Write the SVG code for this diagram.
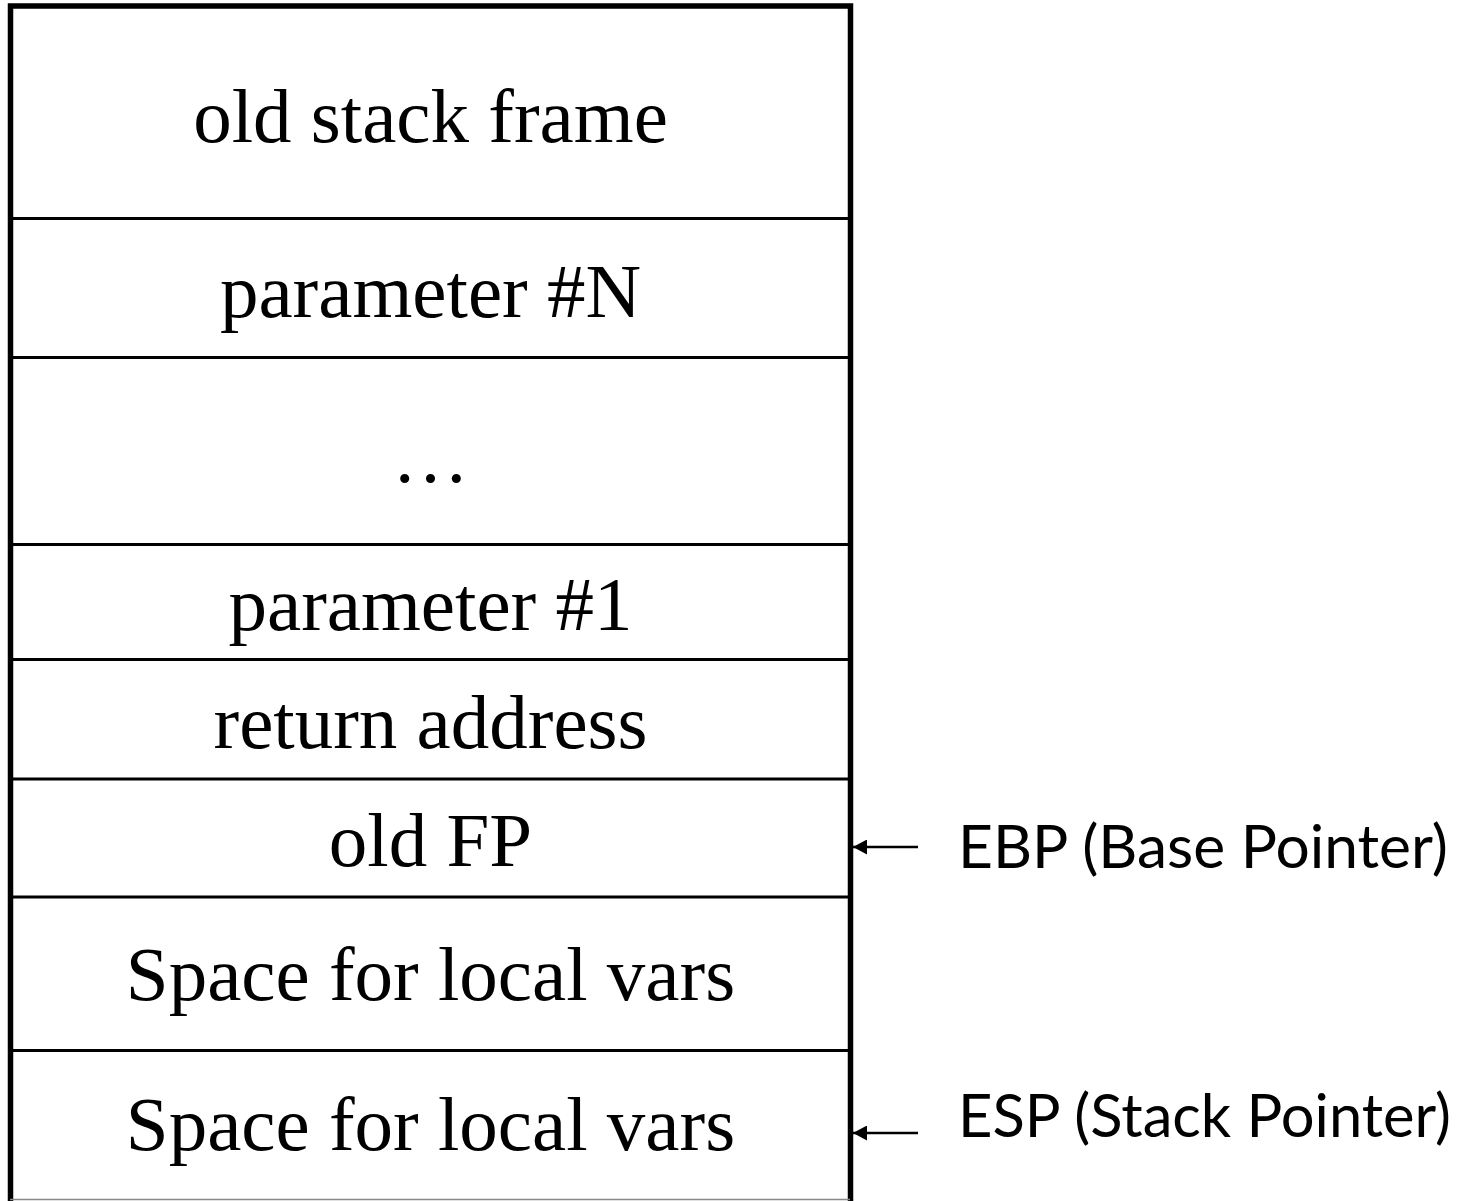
<svg xmlns="http://www.w3.org/2000/svg" width="1465" height="1201" viewBox="0 0 1465 1201">
<defs>
<style>
.cell{font-family:"Liberation Serif","Times New Roman",serif;font-size:77px;fill:#000;text-anchor:middle}
.lbl{font-family:Lato,"Open Sans","Noto Sans",sans-serif;font-size:60px;fill:#000}
.div{stroke:#000;stroke-width:3}
.conn{stroke:#000;stroke-width:2.7;fill:none}
</style>
<marker id="ah" viewBox="0 0 14 15" refX="14" refY="7.5" markerWidth="14" markerHeight="15" markerUnits="userSpaceOnUse" orient="auto">
<path d="M0,0 L14,7.5 L0,15 Z" fill="#000"/>
</marker>
</defs>
<rect width="1465" height="1201" fill="#fff"/>
<g id="stack">
<path d="M10.5,1201 V6 H850.5 V1201" fill="none" stroke="#000" stroke-width="5.5"/>
<line class="div" x1="10" y1="218.5" x2="850" y2="218.5"/>
<line class="div" x1="10" y1="357.5" x2="850" y2="357.5"/>
<line class="div" x1="10" y1="544.5" x2="850" y2="544.5"/>
<line class="div" x1="10" y1="659.5" x2="850" y2="659.5"/>
<line class="div" x1="10" y1="779" x2="850" y2="779"/>
<line class="div" x1="10" y1="897" x2="850" y2="897"/>
<line class="div" x1="10" y1="1050.5" x2="850" y2="1050.5"/>
<line x1="10" y1="1199.5" x2="850" y2="1199.5" stroke="#888" stroke-width="1.5"/>
</g>
<g id="cell-old-stack-frame"><text class="cell" x="430.5" y="142">old stack frame</text></g>
<g id="cell-param-n"><text class="cell" x="430.5" y="317">parameter #N</text></g>
<g id="cell-ellipsis"><text class="cell" x="430.5" y="482">…</text></g>
<g id="cell-param-1"><text class="cell" x="430.5" y="630">parameter #1</text></g>
<g id="cell-return"><text class="cell" x="430.5" y="748">return address</text></g>
<g id="cell-old-fp"><text class="cell" x="430.5" y="866">old FP</text></g>
<g id="cell-local-1"><text class="cell" x="430.5" y="1000">Space for local vars</text></g>
<g id="cell-local-2"><text class="cell" x="430.5" y="1150">Space for local vars</text></g>
<g id="label-ebp"><text class="lbl" x="958" y="868" textLength="490" lengthAdjust="spacingAndGlyphs">EBP (Base Pointer)</text></g>
<g id="label-esp"><text class="lbl" x="958" y="1137" textLength="493" lengthAdjust="spacingAndGlyphs">ESP (Stack Pointer)</text></g>
<g id="connectors">
<line class="conn" x1="918" y1="847" x2="853" y2="847" marker-end="url(#ah)"/>
<line class="conn" x1="918" y1="1133" x2="853" y2="1133" marker-end="url(#ah)"/>
</g>
</svg>
